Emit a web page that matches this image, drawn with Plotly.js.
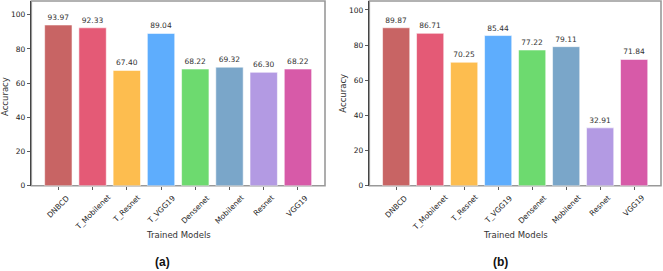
<!DOCTYPE html>
<html>
<head>
<meta charset="utf-8">
<script src="https://cdn.plot.ly/plotly-3.0.1.min.js"></script>
<style>html,body{margin:0;padding:0;background:#fff;}#chart{width:663px;height:271px;}</style>
</head>
<body>
<div id="chart"></div>
<script>
const models = ["DNBCD", "T_Mobilenet", "T_Resnet", "T_VGG19", "Densenet", "Mobilenet", "Resnet", "VGG19"];
const accuracyA = [93.97, 92.33, 67.40, 89.04, 68.22, 69.32, 66.30, 68.22];
const accuracyB = [89.87, 86.71, 70.25, 85.44, 77.22, 79.11, 32.91, 71.84];
const barColors = ["#c86464", "#e45a76", "#fdbd4f", "#5eadfd", "#6dda6f", "#7aa6c9", "#b39ae3", "#d75aa8"];
const yTicks = [0, 20, 40, 60, 80, 100];

const W = 663, H = 271;
function px(x){return x/W;}
function py(y){return 1 - y/H;}

function barTrace(vals, xa, ya){
  return {
    type: 'bar', x: models.map((m,i)=>i), y: vals, xaxis: xa, yaxis: ya,
    width: 0.8,
    marker: {color: barColors, line: {color: 'rgba(255,255,255,0.7)', width: 0.8}},
    texttemplate: '%{y:.2f}', textposition: 'outside', cliponaxis: false,
    textfont: {family: 'DejaVu Sans', size: 7.5, color: '#333'},
    hoverinfo: 'none', showlegend: false
  };
}

const fontT = {family: 'DejaVu Sans', size: 7.5, color: '#222'};
function xAx(d){
  return {domain: d, range: [-0.79, 7.79], tickvals: models.map((m,i)=>i), ticktext: models,
    showticklabels: false, ticks: 'outside', ticklen: 3.5, tickcolor: '#333', tickwidth: 0.8,
    showgrid: false, zeroline: false, showline: false, fixedrange: true};
}
function yAx(d, top, anchor){
  return {domain: d, range: [0, top], tickvals: yTicks, tickfont: fontT, ticks: 'outside', ticklen: 3.5,
    tickcolor: '#333', tickwidth: 0.8, showgrid: false, zeroline: false, showline: true,
    linecolor: '#444', linewidth: 1, anchor: anchor, fixedrange: true};
}

const yd = [py(185.7), py(1)];
const annotations = [
  {text:'Accuracy', xref:'paper', yref:'paper', x:px(5), y:py(97), textangle:-90, showarrow:false,
   font:{family:'DejaVu Sans', size:8.5, color:'#333'}, xanchor:'center', yanchor:'middle'},
  {text:'Accuracy', xref:'paper', yref:'paper', x:px(342.7), y:py(93), textangle:-90, showarrow:false,
   font:{family:'DejaVu Sans', size:8.5, color:'#333'}, xanchor:'center', yanchor:'middle'},
  {text:'Trained Models', xref:'paper', yref:'paper', x:px(178), y:py(235), showarrow:false,
   font:{family:'DejaVu Sans', size:8.5, color:'#333'}, xanchor:'center', yanchor:'middle'},
  {text:'Trained Models', xref:'paper', yref:'paper', x:px(515), y:py(235), showarrow:false,
   font:{family:'DejaVu Sans', size:8.5, color:'#333'}, xanchor:'center', yanchor:'middle'},
  {text:'<b>(a)</b>', xref:'paper', yref:'paper', x:px(162), y:py(262), showarrow:false,
   font:{family:'Liberation Sans', size:12, color:'#111'}, xanchor:'center', yanchor:'middle'},
  {text:'<b>(b)</b>', xref:'paper', yref:'paper', x:px(500), y:py(262), showarrow:false,
   font:{family:'Liberation Sans', size:12, color:'#111'}, xanchor:'center', yanchor:'middle'}
];
// rotated category labels, bounding box centred under each tick (like matplotlib rotation=45)
[['x','y'],['x2','y2']].forEach(function(ax){
  models.forEach(function(m, i){
    annotations.push({text: m, xref: ax[0], yref: ax[1] + ' domain', x: i, y: 0, yshift: -6,
      textangle: -45, showarrow: false, xanchor: 'center', yanchor: 'top',
      font: fontT, borderpad: 0});
  });
});

const layout = {
  width: W, height: H, margin: {l:0, r:0, t:0, b:0},
  paper_bgcolor: '#fff', plot_bgcolor: '#fff',
  xaxis: Object.assign(xAx([px(31.3), px(325)]), {anchor: 'y'}),
  yaxis: yAx(yd, 108.0, 'x'),
  xaxis2: Object.assign(xAx([px(369.3), px(661)]), {anchor: 'y2'}),
  yaxis2: yAx(yd, 105.1, 'x2'),
  shapes: [
    {type:'rect', xref:'x domain', yref:'y domain', x0:0, x1:1, y0:0, y1:1, line:{color:'#999', width:1.6}, layer:'below'},
    {type:'rect', xref:'x2 domain', yref:'y2 domain', x0:0, x1:1, y0:0, y1:1, line:{color:'#999', width:1.6}, layer:'below'}
  ],
  annotations: annotations
};

Plotly.newPlot('chart', [barTrace(accuracyA, 'x', 'y'), barTrace(accuracyB, 'x2', 'y2')], layout, {displayModeBar:false, staticPlot:true});
</script>
</body>
</html>
